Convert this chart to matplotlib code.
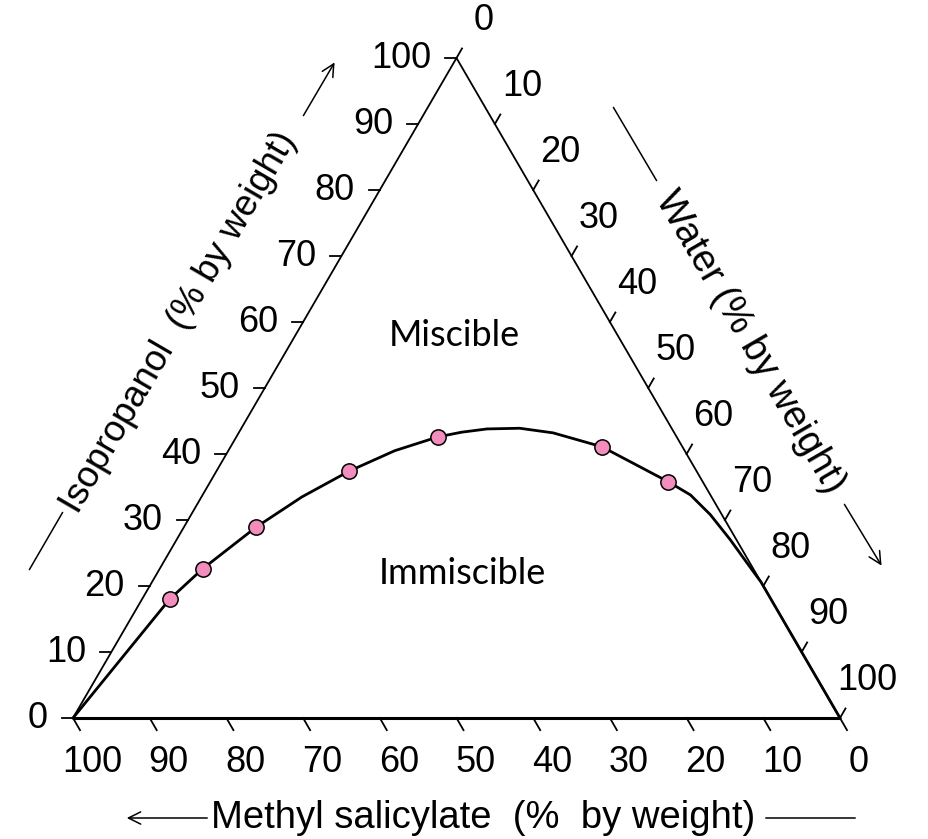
import numpy as np
import matplotlib
matplotlib.use('Agg')
import matplotlib.pyplot as plt

plt.rcParams['font.family'] = ['Liberation Sans', 'DejaVu Sans']

# Measured compositions (% by weight): water and isopropanol, methyl salicylate is the rest
water_pts   = [3.6, 5.6, 9.4, 17.3, 26.3, 48.4, 59.7]
isoprop_pts = [18.0, 22.6, 28.9, 37.4, 42.6, 41.1, 35.8]

# Phase boundary
curve_water   = [0, 3.6, 5.6, 9.4, 13.1, 17.3, 21.7, 26.3, 29.0, 32.1, 36.3, 41.0, 48.4,
                 59.7, 63.6, 67.7, 72.2, 76.8, 79.4, 88.0, 100.0]
curve_isoprop = [0, 18.0, 22.6, 28.9, 33.5, 37.4, 40.5, 42.6, 43.3, 43.8, 43.9, 43.2, 41.1,
                 35.8, 33.8, 30.8, 27.0, 22.9, 20.6, 12.0, 0.0]

tick_vals = list(range(0, 101, 10))

H = np.sqrt(3) / 2


def tern(w, i):
    # water / isopropanol -> cartesian (methyl salicylate corner at origin)
    w = np.asarray(w, dtype=float)
    i = np.asarray(i, dtype=float)
    return w + i / 2, i * H


W_PX, H_PX = 929, 839
fig = plt.figure(figsize=(W_PX / 100, H_PX / 100), dpi=100)
ax = fig.add_axes([0, 0, 1, 1])
sx = 767 / 100.0          # pixels per unit, x
sy = 660 / (100 * H)      # pixels per unit, y
ax.set_xlim(-73 / sx, (W_PX - 73) / sx)
ax.set_ylim(-(H_PX - 718) / sy, 718 / sy)
ax.axis('off')


def fp(x, y):
    # picture pixel (top-left origin) -> figure pixels
    return (x, H_PX - y)


# triangle
cx, cy = tern([0, 100], [0, 0])
ax.plot(cx, cy, color='black', lw=2.2, solid_capstyle='butt')
cx, cy = tern([0, 0, 100], [0, 100, 0])
ax.plot(cx, cy, color='black', lw=1.3)

# ticks and tick labels
tl = 11
fs = 26
for t in tick_vals:
    # left side: isopropanol
    x0, y0 = tern(0, t)
    ax.plot([x0, x0 - tl / sx], [y0, y0], color='black', lw=1.3)
    ax.annotate(str(t), (x0, y0), xytext=(-25, 0), textcoords='offset pixels',
                ha='right', va='center', fontsize=fs)
    # bottom: methyl salicylate
    x0, y0 = tern(100 - t, 0)
    ax.plot([x0, x0 + 0.5 * 14 / sx], [y0, y0 - H * 14 / sy], color='black', lw=1.3)
    ax.annotate(str(t), (x0, y0), xytext=(19, -44), textcoords='offset pixels',
                ha='center', va='center', fontsize=fs)
    # right side: water
    x0, y0 = tern(t, 100 - t)
    ax.plot([x0, x0 + 0.5 * tl / sx], [y0, y0 + H * tl / sy], color='black', lw=1.3)
    ax.annotate(str(t), (x0, y0), xytext=(27, 37), textcoords='offset pixels',
                ha='center', va='center', fontsize=fs)

# boundary curve and data points
cx, cy = tern(curve_water, curve_isoprop)
ax.plot(cx, cy, color='black', lw=2.0, zorder=3, solid_joinstyle='round')
px, py = tern(water_pts, isoprop_pts)
ax.plot(px, py, 'o', ms=11, mfc='#f28dbd', mec='black', mew=1.1, zorder=4)

# region labels
fig.text(454 / W_PX, 1 - 335 / H_PX, 'Miscible', fontsize=26, ha='center', va='center',
         family=['Lato', 'DejaVu Sans'])
fig.text(462 / W_PX, 1 - 573 / H_PX, 'Immiscible', fontsize=26, ha='center', va='center',
         family=['Lato', 'DejaVu Sans'])

# axis titles
tfs = 27.5
fig.text(179 / W_PX, 1 - 322 / H_PX, 'Isopropanol  (% by weight)', fontsize=tfs - 1,
         rotation=59.8, rotation_mode='anchor', ha='center', va='center')
fig.text(750 / W_PX, 1 - 342 / H_PX, 'Water (% by weight)', fontsize=tfs,
         rotation=-59.8, rotation_mode='anchor', ha='center', va='center')
fig.text(483 / W_PX, 1 - 818 / H_PX, 'Methyl salicylate  (%  by weight)', fontsize=tfs,
         ha='center', va='center')

# guide lines and arrows next to the titles
arr = dict(arrowstyle='->', lw=1.1, color='black', mutation_scale=22)
line = dict(arrowstyle='-', lw=1.1, color='black')
ax.annotate('', xy=fp(64, 510), xytext=fp(28, 572), xycoords='figure pixels',
            textcoords='figure pixels', arrowprops=line)
ax.annotate('', xy=fp(336, 60), xytext=fp(302, 118), xycoords='figure pixels',
            textcoords='figure pixels', arrowprops=arr)
ax.annotate('', xy=fp(658, 183), xytext=fp(612, 105), xycoords='figure pixels',
            textcoords='figure pixels', arrowprops=line)
ax.annotate('', xy=fp(883, 568), xytext=fp(843, 502), xycoords='figure pixels',
            textcoords='figure pixels', arrowprops=arr)
ax.annotate('', xy=fp(124, 818), xytext=fp(210, 818), xycoords='figure pixels',
            textcoords='figure pixels', arrowprops=arr)
ax.annotate('', xy=fp(858, 818), xytext=fp(763, 818), xycoords='figure pixels',
            textcoords='figure pixels', arrowprops=line)

fig.savefig('out.png', dpi=100)
